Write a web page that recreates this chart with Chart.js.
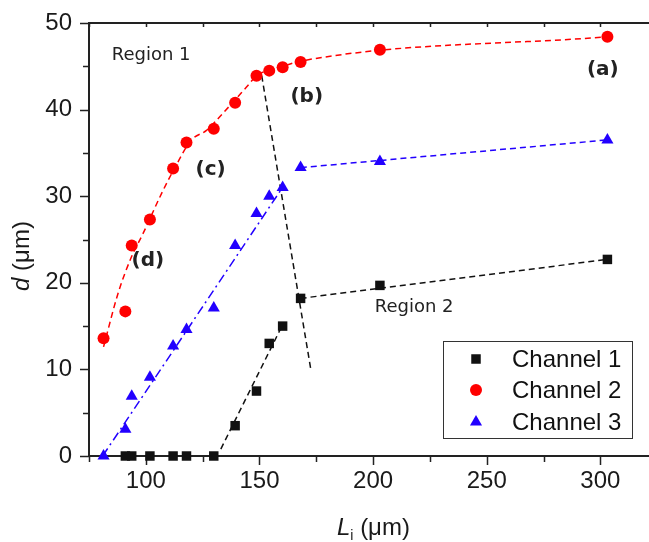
<!DOCTYPE html>
<html>
<head>
<meta charset="utf-8">
<script src="https://cdn.jsdelivr.net/npm/chart.js@4.4.0/dist/chart.umd.min.js"></script>
<style>
  body { margin: 0; background: #fff; }
  #wrap { width: 649px; height: 542px; }
</style>
</head>
<body>
<div id="wrap"><canvas id="chart" width="649" height="542"></canvas></div>
<script>
// measured points, L_i (um) vs d (um)
const lengths = [81.4, 91.0, 93.8, 101.8, 112.0, 117.9, 129.9, 139.3, 148.7, 154.3, 160.2, 168.1, 203.0, 303.1];
const channel1 = [null, 0, 0, 0, 0, 0, 0, 3.5, 7.5, 13.0, 15.0, 18.2, 19.7, 22.7];
const channel2 = [13.6, 16.7, 24.3, 27.3, 33.2, 36.2, 37.8, 40.8, 43.9, 44.5, 44.9, 45.5, 46.9, 48.4];
const channel3 = [0, 3.1, 6.9, 9.1, 12.7, 14.6, 17.1, 24.3, 28.0, 30.0, 31.0, 33.3, 34.0, 36.5];
const channelNames = ['Channel 1', 'Channel 2', 'Channel 3'];

// guide lines
const fit2X = [81.4, 87.8, 93.7, 98.8, 106.9, 113.0, 120.1, 126.7, 134.0, 144.3, 148.7, 154.3, 160.2, 168.1, 303.1];
const fit2Y = [12.6, 18.8, 23.0, 25.7, 30.3, 33.4, 36.5, 37.6, 39.6, 42.6, 43.9, 44.6, 45.0, 45.6, 48.4];
const fit3aX = [81.0, 160.4];
const fit3aY = [0, 31.1];
const fit3bX = [168.2, 303.1];
const fit3bY = [33.3, 36.5];
const fit1aX = [133.0, 159.5];
const fit1aY = [0.8, 14.8];
const fit1bX = [168.1, 303.1];
const fit1bY = [18.2, 22.7];
const boundaryX = [151.0, 172.6];
const boundaryY = [43.9, 10.0];

// text labels placed in data units
const notes = [
  { text: 'Region 1', x: 85.0, y: 46.3, bold: false, align: 'left' },
  { text: 'Region 2', x: 200.7, y: 17.2, bold: false, align: 'left' },
  { text: '(a)', x: 301.1, y: 44.6, bold: true, align: 'center' },
  { text: '(b)', x: 170.8, y: 41.5, bold: true, align: 'center' },
  { text: '(c)', x: 128.5, y: 33.0, bold: true, align: 'center' },
  { text: '(d)', x: 100.9, y: 22.5, bold: true, align: 'center' }
];

const RED = '#ff0000', BLUE = '#2200ff', BLACK = '#111111', AXIS = '#222222';
const FONT = '"Liberation Sans", Arial, sans-serif';

function pts(xs, ys) {
  return xs.map((x, i) => ({ x, y: ys[i] })).filter(p => p.y !== null);
}

function guide(xs, ys, color, dash, extra) {
  return Object.assign({
    data: pts(xs, ys), showLine: true, pointRadius: 0, borderColor: color,
    borderWidth: 1.5, borderDash: dash, order: 10, clip: false
  }, extra || {});
}

function marker(ctx, style, x, y, color) {
  ctx.fillStyle = color;
  ctx.beginPath();
  if (style === 'rect') ctx.rect(x - 4.75, y - 4.75, 9.5, 9.5);
  else if (style === 'circle') ctx.arc(x, y, 6, 0, Math.PI * 2);
  else {
    ctx.moveTo(x, y - 7);
    ctx.lineTo(x + 6.06, y + 3.5);
    ctx.lineTo(x - 6.06, y + 3.5);
    ctx.closePath();
  }
  ctx.fill();
}

const axesPlugin = {
  id: 'axes',
  beforeDatasetsDraw(chart) {
    const { ctx, chartArea: a, scales: { x, y } } = chart;
    ctx.save();
    ctx.strokeStyle = AXIS;
    ctx.lineWidth = 2;
    ctx.beginPath();
    ctx.moveTo(a.left, a.top); ctx.lineTo(a.right, a.top);
    ctx.moveTo(a.left, a.top - 1); ctx.lineTo(a.left, a.bottom);
    ctx.moveTo(a.left, a.bottom); ctx.lineTo(a.right, a.bottom);
    ctx.stroke();
    ctx.lineWidth = 1.5;
    ctx.beginPath();
    x.ticks.forEach(t => {
      if (t.value % 25 !== 0) return;
      const px = Math.round(x.getPixelForValue(t.value)) + 0.5;
      const len = t.value % 50 === 0 ? 9 : 6;
      ctx.moveTo(px, a.bottom); ctx.lineTo(px, a.bottom + len);
      ctx.moveTo(px, a.top); ctx.lineTo(px, a.top + 4);
    });
    y.ticks.forEach(t => {
      const py = Math.round(y.getPixelForValue(t.value)) + 0.5;
      const len = t.value % 10 === 0 ? 9 : 6;
      ctx.moveTo(a.left, py); ctx.lineTo(a.left - len, py);
    });
    ctx.stroke();
    ctx.restore();
  },
  afterDraw(chart) {
    const { ctx, chartArea: a, scales: { x, y } } = chart;
    ctx.save();
    ctx.fillStyle = '#1a1a1a';

    // y title: d (um)
    ctx.save();
    ctx.translate(22, 256);
    ctx.rotate(-Math.PI / 2);
    ctx.textBaseline = 'middle';
    ctx.font = 'italic 24px ' + FONT;
    const wd = ctx.measureText('d').width;
    ctx.font = '24px ' + FONT;
    const wr = ctx.measureText(' (\u03bcm)').width;
    let sx = -(wd + wr) / 2;
    ctx.textAlign = 'left';
    ctx.font = 'italic 24px ' + FONT;
    ctx.fillText('d', sx, 0);
    ctx.font = '24px ' + FONT;
    ctx.fillText(' (\u03bcm)', sx + wd, 0);
    ctx.restore();

    // x title: L_i (um)
    ctx.textAlign = 'left';
    ctx.textBaseline = 'alphabetic';
    let tx = 337;
    ctx.font = 'italic 24px ' + FONT;
    ctx.fillText('L', tx, 535);
    tx += ctx.measureText('L').width;
    ctx.font = '14px ' + FONT;
    ctx.fillText('i', tx, 540);
    tx += ctx.measureText('i').width;
    ctx.font = '24px ' + FONT;
    ctx.fillText(' (\u03bcm)', tx, 535);

    // annotations
    notes.forEach(n => {
      ctx.font = (n.bold ? 'bold 20px ' : '18px ') + '"DejaVu Sans", Verdana, sans-serif';
      ctx.textAlign = n.align;
      ctx.textBaseline = 'middle';
      ctx.fillStyle = '#222';
      ctx.fillText(n.text, x.getPixelForValue(n.x), y.getPixelForValue(n.y));
    });

    // legend box
    ctx.fillStyle = '#fff';
    ctx.fillRect(443.5, 341.5, 189, 97);
    ctx.strokeStyle = '#333';
    ctx.lineWidth = 1;
    ctx.strokeRect(443.5, 341.5, 189, 97);
    const styles = ['rect', 'circle', 'triangle'];
    const colors = [BLACK, RED, BLUE];
    const rowsY = [359, 390, 422];
    channelNames.forEach((name, i) => {
      marker(ctx, styles[i], 476, rowsY[i], colors[i]);
      ctx.fillStyle = '#111';
      ctx.font = '24px ' + FONT;
      ctx.textAlign = 'left';
      ctx.textBaseline = 'middle';
      ctx.fillText(name, 512, rowsY[i] + 1);
    });
    ctx.restore();
  }
};

new Chart(document.getElementById('chart'), {
  type: 'scatter',
  data: {
    datasets: [
      guide(fit2X, fit2Y, RED, [6, 4], { cubicInterpolationMode: 'monotone' }),
      guide(fit3aX, fit3aY, BLUE, [9, 4, 2, 4]),
      guide(fit3bX, fit3bY, BLUE, [6, 4]),
      guide(fit1aX, fit1aY, BLACK, [6, 4]),
      guide(fit1bX, fit1bY, BLACK, [6, 4]),
      guide(boundaryX, boundaryY, BLACK, [6, 4]),
      { label: channelNames[0], data: pts(lengths, channel1), pointStyle: 'rect', pointRadius: 6.7,
        backgroundColor: BLACK, borderWidth: 0, order: 3, clip: false },
      { label: channelNames[1], data: pts(lengths, channel2), pointStyle: 'circle', pointRadius: 6,
        backgroundColor: RED, borderWidth: 0, order: 2, clip: false },
      { label: channelNames[2], data: pts(lengths, channel3), pointStyle: 'triangle', pointRadius: 7,
        backgroundColor: BLUE, borderWidth: 0, order: 1, clip: false }
    ]
  },
  options: {
    responsive: false,
    animation: false,
    layout: { autoPadding: false, padding: { top: 23, right: 0, left: 0, bottom: 0 } },
    plugins: { legend: { display: false }, tooltip: { enabled: false } },
    elements: { point: { hoverRadius: 6 } },
    scales: {
      x: {
        type: 'linear', min: 75, max: 321.4,
        border: { display: false },
        grid: { drawOnChartArea: false, tickLength: 9, tickColor: 'rgba(0,0,0,0)' },
        ticks: {
          stepSize: 25, autoSkip: false, maxRotation: 0, padding: 2, includeBounds: false,
          color: '#1a1a1a', font: { family: FONT, size: 24 },
          callback: v => (v % 50 === 0 ? v : '')
        },
        afterFit: s => { s.height = 86; s.paddingLeft = 0; s.paddingRight = 0; }
      },
      y: {
        type: 'linear', min: 0, max: 50,
        border: { display: false },
        grid: { drawOnChartArea: false, tickLength: 9, tickColor: 'rgba(0,0,0,0)' },
        ticks: {
          stepSize: 5, autoSkip: false, padding: 8,
          color: '#1a1a1a', font: { family: FONT, size: 24 },
          callback: v => (v % 10 === 0 ? v : '')
        },
        afterFit: s => { s.width = 89; }
      }
    }
  },
  plugins: [axesPlugin]
});
</script>
</body>
</html>
